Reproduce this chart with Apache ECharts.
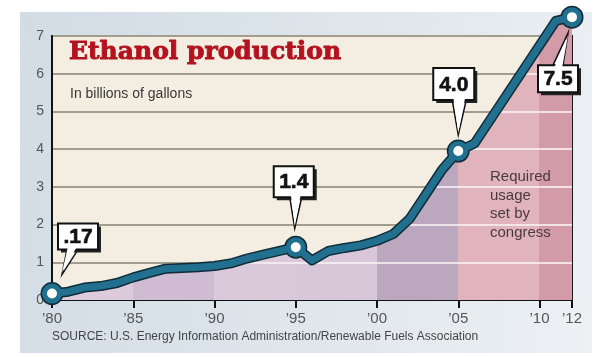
<!DOCTYPE html>
<html><head><meta charset="utf-8">
<script src="https://cdn.jsdelivr.net/npm/echarts@6/dist/echarts.min.js"></script>
<style>
html,body{margin:0;padding:0;background:#fff;width:597px;height:357px;overflow:hidden;}
#panel{position:absolute;left:20px;top:12px;width:572px;height:341px;background:linear-gradient(100deg,#d2dce5 0%,#dfe6ec 55%,#edf1f4 100%);}
#chart{position:absolute;left:0;top:0;width:597px;height:357px;}
</style></head><body>
<div id="panel"></div><div id="chart"></div>
<script>
const years = [1980,1981,1982,1983,1984,1985,1986,1987,1988,1989,1990,1991,1992,1993,1994,1995,1996,1997,1998,1999,2000,2001,2002,2003,2004,2005,2006,2007,2008,2009,2010,2011,2012];
const production = [0.17,0.22,0.33,0.37,0.45,0.6,0.72,0.83,0.85,0.87,0.9,0.97,1.1,1.2,1.3,1.4,1.05,1.3,1.38,1.45,1.57,1.75,2.15,2.8,3.45,3.95,4.15,4.8,5.45,6.1,6.75,7.4,7.5];
const yTicks = [0,1,2,3,4,5,6,7];
const xTickYears = [1980,1985,1990,1995,2000,2005,2010,2012];
const calloutYears = [1980,1995,2005,2012];
const calloutLabels = ['.17','1.4','4.0','7.5'];
const bandYears = [1980,1985,1990,1995,2000,2005,2010,2012];
const bandColors = ['#dccbdc','#d0bcd2','#dac8db','#d8c6d9','#bca8be','#e1b4bd','#d39ba8'];
const titleText = 'Ethanol production';
const subtitleText = 'In billions of gallons';
const noteLines = ['Required','usage','set by','congress'];
const sourceText = 'SOURCE: U.S. Energy Information Administration/Renewable Fuels Association';

const chart = echarts.init(document.getElementById('chart'), null, {renderer:'canvas'});
const seriesData = years.map((y,i)=>[y,production[i]]);
const x0 = years[0], x1 = years[years.length-1];

const stops = [];
bandColors.forEach((c,i)=>{
  stops.push({offset:(bandYears[i]-x0)/(x1-x0),color:c});
  stops.push({offset:(bandYears[i+1]-x0)/(x1-x0),color:c});
});

function gridSegments(level){
  const segs=[]; let start=null;
  for(let i=0;i<years.length-1;i++){
    const xa=years[i],ya=production[i],xb=years[i+1],yb=production[i+1];
    const a=ya>level,b=yb>level;
    if(a&&start===null) start=xa;
    if(a!==b){
      const xc=xa+(level-ya)/(yb-ya)*(xb-xa);
      if(b) start=xc; else {segs.push([start,xc]); start=null;}
    }
  }
  if(start!==null) segs.push([start,x1]);
  return segs;
}
const whiteLines=[];
yTicks.slice(1,-1).forEach(k=>gridSegments(k).forEach(s=>whiteLines.push({coords:[[s[0],k],[s[1],k]]})));

const isCallout=(p)=>calloutYears.indexOf(p[0])>=0;

chart.setOption({
  animation:false,
  backgroundColor:'transparent',
  grid:{left:52,right:25,top:36,bottom:57,show:true,backgroundColor:'#f3eee1',borderColor:'#1a1a1a',borderWidth:2},
  xAxis:{type:'value',min:x0,max:x1,
    axisLine:{lineStyle:{color:'#111',width:2}},
    axisTick:{show:true,customValues:xTickYears,length:8,lineStyle:{color:'#111',width:2}},
    axisLabel:{customValues:xTickYears,formatter:v=>'\u2019'+String(v).slice(2),color:'#555',fontSize:15,margin:11,fontFamily:'Liberation Sans'},
    splitLine:{show:false}},
  yAxis:{type:'value',min:0,max:7,interval:1,
    axisLine:{show:true,lineStyle:{color:'#111',width:2}},
    axisTick:{show:false},
    axisLabel:{color:'#555',fontSize:14,margin:8,fontFamily:'Liberation Sans'},
    splitLine:{lineStyle:{color:'#a39d8e',width:2}}},
  series:[
    {type:'line',data:seriesData,showSymbol:false,clip:false,z:2,silent:true,
     lineStyle:{width:0},areaStyle:{opacity:1,color:new echarts.graphic.LinearGradient(0,0,1,0,stops)}},
    {type:'lines',coordinateSystem:'cartesian2d',data:whiteLines,z:3,silent:true,
     lineStyle:{color:'#f6eef1',width:2,opacity:0.85}},
    {type:'line',data:seriesData,clip:false,z:4,silent:true,showAllSymbol:true,symbol:'circle',
     symbolSize:(v)=>isCallout(v)?23:0,itemStyle:{color:'#0f2c38'},
     lineStyle:{color:'#0f2c38',width:10,join:'round',cap:'round'}},
    {type:'line',data:seriesData,clip:false,z:5,silent:true,showAllSymbol:true,symbol:'circle',
     symbolSize:(v)=>isCallout(v)?15:0,itemStyle:{color:'#ffffff',borderColor:'#22708f',borderWidth:5},
     lineStyle:{color:'#22708f',width:7,join:'round',cap:'round'}}
  ]
});

// callouts
const geo = [
  {bx:6,by:-70,w:40,h:26,base:[15,26],tip:[10,-19],up:false},
  {bx:-22,by:-81,w:40,h:31,base:[-6,6],tip:[-1,-19],up:false},
  {bx:-25,by:-83,w:41,h:32,base:[-6,8],tip:[0,-16],up:false},
  {bx:-34,by:48,w:40,h:27,base:[-19,-9],tip:[-4,16],up:true}
];
const g=[];
calloutYears.forEach((yr,i)=>{
  const idx=years.indexOf(yr);
  const p=chart.convertToPixel({gridIndex:0},[yr,production[idx]]);
  const c=geo[i];
  const L=p[0]+c.bx, T=p[1]+c.by;
  const baseY = c.up ? T : T+c.h;
  const inner = c.up ? 3 : -3;
  const tail=[[p[0]+c.base[0],baseY],[p[0]+c.tip[0],p[1]+c.tip[1]],[p[0]+c.base[1],baseY]];
  g.push({type:'polygon',z:100,shape:{points:tail},style:{fill:'#fff',stroke:'#111',lineWidth:1.5}});
  g.push({type:'rect',z:101,shape:{x:L+3,y:T+3,width:c.w,height:c.h},style:{fill:'#222'}});
  g.push({type:'rect',z:102,shape:{x:L,y:T,width:c.w,height:c.h},style:{fill:'#fff',stroke:'#111',lineWidth:2}});
  g.push({type:'polygon',z:103,shape:{points:[[tail[0][0]+1,baseY+inner],[tail[1][0],tail[1][1]+(c.up?2:-2)],[tail[2][0]-1,baseY+inner]]},style:{fill:'#fff'}});
  g.push({type:'text',z:104,x:L+c.w/2,y:T+c.h/2+1,style:{text:calloutLabels[i],fill:'#111',stroke:'#111',lineWidth:0.6,font:'bold 21px "Liberation Sans Narrow","Liberation Sans",sans-serif',align:'center',verticalAlign:'middle'}});
});
g.push({type:'text',z:50,x:69,y:40,style:{text:titleText,fill:'#b3121e',stroke:'#b3121e',lineWidth:0.9,font:'bold 25px "DejaVu Serif",serif',verticalAlign:'top'}});
g.push({type:'text',z:50,x:70,y:87,style:{text:subtitleText,fill:'#383838',font:'14px "Liberation Sans",sans-serif',verticalAlign:'top'}});
g.push({type:'text',z:50,x:490,y:168,style:{text:noteLines.join('\n'),fill:'#4a3a3d',font:'15px "Liberation Sans",sans-serif',lineHeight:18.5,verticalAlign:'top'}});
g.push({type:'text',z:50,x:52,y:331,style:{text:sourceText,fill:'#444',font:'12px "Liberation Sans",sans-serif',verticalAlign:'top'}});
chart.setOption({graphic:g});
</script>
</body></html>
